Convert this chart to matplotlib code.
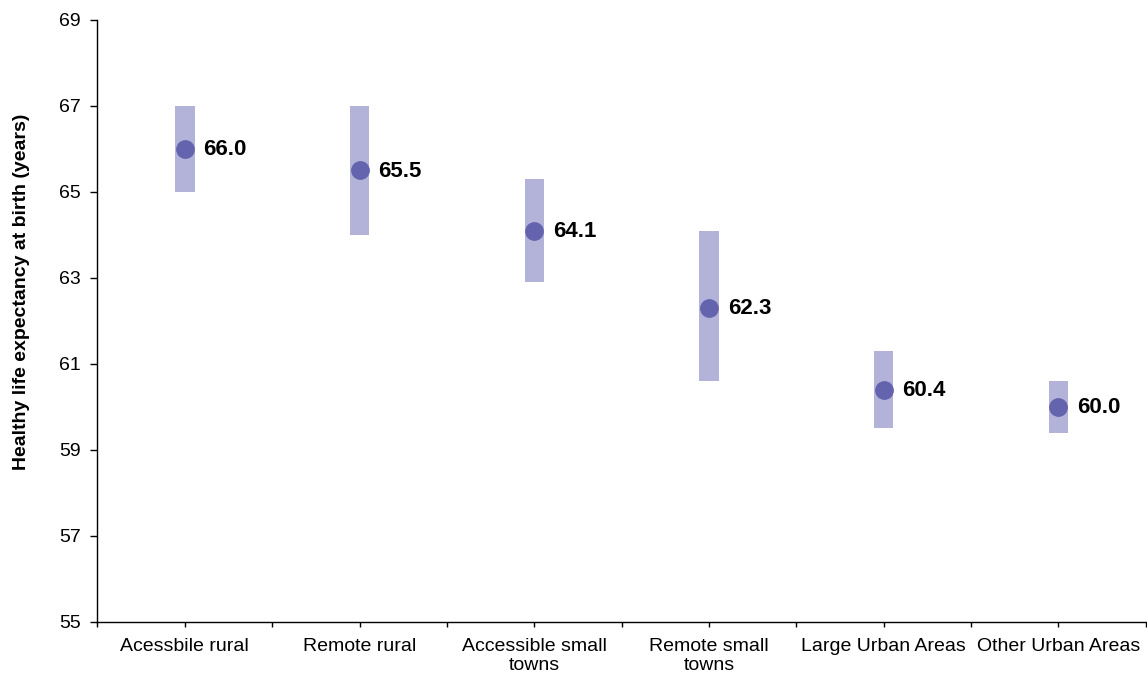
import numpy as np
import matplotlib
matplotlib.use("Agg")
import matplotlib.pyplot as plt

plt.rcParams['font.family'] = ['Liberation Sans', 'DejaVu Sans']

# healthy life expectancy by urban/rural class, with confidence intervals
categorias = ["Acessbile rural", "Remote rural", "Accessible small\ntowns",
              "Remote small\ntowns", "Large Urban Areas", "Other Urban Areas"]
hle = [66.0, 65.5, 64.1, 62.3, 60.4, 60.0]
ic_inferior = [65.0, 64.0, 62.9, 60.6, 59.5, 59.4]
ic_superior = [67.0, 67.0, 65.3, 64.1, 61.3, 60.6]
yticks = [55, 57, 59, 61, 63, 65, 67, 69]

color_barra = "#b3b3d9"
color_punto = "#6464ae"

fig = plt.figure(figsize=(11.47, 6.78), dpi=100)
ax = fig.add_axes([0.085, 0.0826, 0.914, 0.888])

x = np.arange(len(categorias)) + 0.5
alto = np.array(ic_superior) - np.array(ic_inferior)

# intervalo como barra ancha y transparente detras del punto
ax.bar(x, alto, bottom=ic_inferior, width=0.111, color=color_barra, zorder=2)
ax.plot(x, hle, "o", color=color_punto, markersize=12.5, zorder=3)

for xi, v in zip(x, hle):
    ax.annotate(f"{v:.1f}", (xi, v), xytext=(13.5, -0.5), textcoords="offset points",
                ha="left", va="center", fontsize=16, fontweight="bold", color="black")

ax.set_xlim(0, len(categorias))
ax.set_ylim(55, 69)
ax.set_yticks(yticks)
ax.set_xticks(x)
ax.set_xticklabels(categorias, fontsize=14, linespacing=1.2)
ax.set_xticks(np.arange(len(categorias) + 1), minor=True)
ax.tick_params(axis="y", labelsize=14, length=5, width=1, pad=7)
ax.tick_params(axis="x", which="both", length=3.3, width=1, pad=8)

ax.set_ylabel("Healthy life expectancy at birth (years)", fontsize=14,
              fontweight="bold")
ax.yaxis.set_label_coords(-0.064, 0.548)

for lado in ["top", "right"]:
    ax.spines[lado].set_visible(False)
for lado in ["left", "bottom"]:
    ax.spines[lado].set_linewidth(1)
    ax.spines[lado].set_color("black")

plt.savefig("out.png", dpi=100)
